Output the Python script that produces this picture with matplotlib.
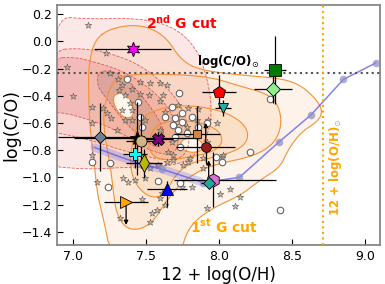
import numpy as np
import matplotlib
matplotlib.use('Agg')
import matplotlib.pyplot as plt

# ---- data ----
# background sample: stars and open circles
star_x = [7.106, 7.229, 6.962, 7.256, 7.003, 7.133, 7.133, 7.311, 7.338, 7.318, 7.359, 7.393,
          7.461, 7.53, 7.598, 7.407, 7.461, 7.523, 7.598, 7.619, 7.208, 7.236, 7.263, 7.338,
          7.407, 7.359, 7.407, 7.304, 7.496, 7.598, 7.701, 7.783, 7.714, 7.789, 7.858, 7.851,
          7.926, 7.988, 7.646, 7.721, 7.755, 7.632, 7.68, 7.653, 7.687, 7.919, 8.022, 7.892,
          7.133, 7.167, 7.345, 7.379, 7.427, 7.496, 7.53, 7.584, 7.646, 7.687, 7.475, 7.598,
          7.612, 7.578, 7.543, 7.53, 7.325, 7.632, 7.755, 7.789, 7.892, 7.817, 8.008, 8.077,
          8.145, 7.919, 8.111, 7.803, 8.029, 7.748]
star_y = [0.119, -0.087, -0.19, -0.234, -0.403, -0.484, -0.601, -0.278, -0.322, -0.359, -0.396, -0.454,
          -0.3, -0.307, -0.307, -0.351, -0.388, -0.396, -0.44, -0.396, -0.491, -0.528, -0.565, -0.506,
          -0.506, -0.579, -0.579, -0.653, -0.579, -0.653, -0.616, -0.631, -0.557, -0.491, -0.499, -0.579,
          -0.579, -0.601, -0.322, -0.469, -0.601, -0.521, -0.741, -0.815, -0.837, -0.741, -0.851, -0.859,
          -0.837, -1.035, -1.006, -1.035, -1.021, -1.006, -0.932, -0.91, -0.888, -0.874, -1.16, -1.153,
          -1.116, -1.241, -1.263, -1.329, -1.3, -1.204, -0.91, -0.888, -0.932, -1.072, -1.124, -1.087,
          -1.146, -1.226, -1.212, -0.859, -0.837, -1.072]

circ_x = [7.373, 7.448, 7.461, 7.475, 7.68, 7.701, 7.748, 7.728, 7.817, 7.748, 7.687, 7.721,
          7.858, 7.701, 7.783, 7.735, 7.632, 8.213, 8.35, 8.022, 7.981, 8.418, 7.919, 7.133,
          7.256, 7.243, 7.584, 7.735]
circ_y = [-0.278, -0.447, -0.557, -0.631, -0.484, -0.565, -0.528, -0.381, -0.557, -0.594, -0.616, -0.653,
          -0.631, -0.704, -0.675, -0.778, -0.557, -0.815, -0.425, -0.888, -0.851, -1.241, -0.601, -0.888,
          -0.896, -1.072, -1.028, -1.043]

# model track
track_x = [7.61, 7.89, 8.14, 8.41, 8.63, 8.85, 9.07]
track_y = [-0.94, -1.04, -1.0, -0.74, -0.54, -0.28, -0.16]
band_x = [7.15, 7.30, 7.46, 7.61, 7.74, 7.87]
band_y = [-0.78, -0.84, -0.90, -0.94, -0.985, -1.03]

solar_co = -0.235
solar_oh = 8.71

# highlighted objects
obj_x = [7.41, 8.38, 8.37, 8.00, 8.03, 7.85, 7.91, 7.96, 7.93, 7.648, 7.489, 7.366, 7.427, 7.586, 7.439, 7.468, 7.188]
obj_y = [-0.057, -0.212, -0.354, -0.37, -0.49, -0.685, -0.78, -1.016, -1.045, -1.085, -0.898, -1.18, -0.829, -0.72, -0.714, -0.734, -0.70]
obj_xlo = [0.26, 0.075, 0.13, 0.115, 0.055, 0.16, 0.2, 0.27, 0.05, 0.137, 0.125, 0.15, 0.085, 0.1, 0.43, 0.1, 0.29]
obj_xhi = [0.26, 0.075, 0.13, 0.115, 0.055, 0.16, 0.2, 0.43, 0.05, 0.137, 0.125, 0.15, 0.085, 0.1, 0.43, 0.1, 0.29]
obj_ylo = [0.05, 0.25, 0.1, 0.12, 0.06, 0.21, 0.12, 0.2, 0.0, 0.13, 0.107, 0.0, 0.1, 0.05, 0.27, 0.2, 0.25]
obj_yhi = [0.05, 0.25, 0.1, 0.12, 0.06, 0.21, 0.0, 0.2, 0.0, 0.06, 0.107, 0.0, 0.1, 0.05, 0.27, 0.2, 0.25]
obj_arrow = [0, 0, 0, 0, 0, 0, 0.18, 0, 0.17, 0, 0, -0.17, 0, 0, 0, 0, 0]
obj_marker = [(6, 1, 0), 's', 'D', 'p', 'v', 's', 'o', 'h', 'D', '^', 'd', '>', 'P', 'X', '*', 'o', 'D']
obj_color = ['magenta', '#007a00', '#90ee90', 'red', '#20b2aa', '#cd853f', '#a01818', 'orchid',
             '#1fa8a0', 'blue', '#b8b800', 'orange', 'cyan', 'purple', 'black', '#d2b48c', 'slategray']
obj_size = [10, 8, 7, 9, 7, 6, 7, 9.5, 6, 8, 9, 9, 9, 8, 10, 8, 6]

# density contours, outer to inner
red_c1 = [(6.85, 0.185), (7.12, 0.163), (7.39, 0.171), (7.60, 0.141), (7.75, 0.06), (7.86, -0.079),
          (7.92, -0.271), (7.95, -0.469), (7.94, -0.638), (7.87, -0.8), (7.77, -0.888), (7.63, -0.918),
          (7.39, -0.925), (7.15, -0.94), (6.98, -0.932), (6.85, -0.918)]
red_c2 = [(6.85, -0.065), (7.05, -0.05), (7.22, -0.079), (7.39, -0.138), (7.53, -0.226), (7.65, -0.344),
          (7.74, -0.469), (7.79, -0.616), (7.80, -0.763), (7.75, -0.859), (7.63, -0.874), (7.46, -0.837),
          (7.29, -0.785), (7.12, -0.726), (6.98, -0.69), (6.85, -0.668)]
red_c3 = [(6.85, -0.124), (7.02, -0.116), (7.15, -0.153), (7.29, -0.197), (7.43, -0.271), (7.56, -0.374),
          (7.67, -0.506), (7.72, -0.653), (7.72, -0.785), (7.67, -0.837), (7.56, -0.815), (7.46, -0.763),
          (7.36, -0.69), (7.22, -0.616), (7.08, -0.565), (6.95, -0.528), (6.85, -0.521)]
red_c4 = [(7.17, -0.226), (7.26, -0.212), (7.37, -0.271), (7.48, -0.41), (7.56, -0.521), (7.62, -0.638),
          (7.63, -0.741), (7.58, -0.785), (7.51, -0.741), (7.41, -0.653), (7.33, -0.557), (7.24, -0.432),
          (7.17, -0.337)]
org_c1 = [(7.15, 0.009), (7.26, 0.097), (7.46, 0.126), (7.63, 0.046), (7.74, -0.138), (7.87, -0.212),
          (8.15, -0.249), (8.42, -0.271), (8.56, -0.322), (8.67, -0.432), (8.71, -0.521), (8.67, -0.594),
          (8.56, -0.668), (8.47, -0.8), (8.42, -0.925), (8.28, -1.021), (8.15, -1.131), (7.97, -1.219),
          (7.84, -1.315), (7.77, -1.425), (7.74, -1.57), (7.26, -1.57), (7.22, -1.344), (7.17, -1.131),
          (7.15, -0.91), (7.12, -0.653), (7.11, -0.396), (7.11, -0.175)]
org_c2 = [(7.28, -0.271), (7.43, -0.241), (7.60, -0.241), (7.80, -0.249), (7.97, -0.271), (8.14, -0.329),
          (8.32, -0.381), (8.40, -0.454), (8.43, -0.587), (8.40, -0.712), (8.32, -0.8), (8.18, -0.859),
          (8.01, -0.896), (7.87, -0.947), (7.74, -1.043), (7.63, -1.189), (7.56, -1.315), (7.46, -1.388),
          (7.36, -1.373), (7.30, -1.263), (7.28, -1.116), (7.26, -0.925), (7.22, -0.704), (7.21, -0.484)]
org_c3 = [(7.46, -0.565), (7.60, -0.491), (7.77, -0.469), (7.94, -0.491), (8.09, -0.543), (8.19, -0.631),
          (8.20, -0.726), (8.13, -0.8), (7.97, -0.851), (7.80, -0.896), (7.70, -0.984), (7.63, -1.131),
          (7.53, -1.153), (7.43, -1.057), (7.39, -0.91), (7.41, -0.726)]
org_c4 = [(7.56, -0.616), (7.70, -0.579), (7.87, -0.594), (8.00, -0.653), (8.03, -0.741), (7.96, -0.815),
          (7.80, -0.851), (7.67, -0.874), (7.56, -0.859), (7.51, -0.763)]
hole_1 = [(7.28, -0.396), (7.34, -0.374), (7.39, -0.418), (7.42, -0.491), (7.41, -0.557), (7.36, -0.565),
          (7.31, -0.521), (7.28, -0.454)]
hole_2 = [(7.74, -0.726), (7.82, -0.704), (7.89, -0.741), (7.89, -0.8), (7.82, -0.822), (7.74, -0.793)]


def smooth(pts, n=4):
    p = np.array(pts, dtype=float)
    for _ in range(n):
        q = np.roll(p, -1, axis=0)
        new = np.empty((2 * len(p), 2))
        new[0::2] = 0.75 * p + 0.25 * q
        new[1::2] = 0.25 * p + 0.75 * q
        p = new
    return np.vstack([p, p[:1]])


fig = plt.figure(figsize=(3.85, 2.84), dpi=100)
ax = fig.add_axes([0.148, 0.137, 0.839, 0.845])

red_fill = ['#ec7a72', '#ec7a72', '#e06a70', '#a87a86']
red_alpha = [0.18, 0.18, 0.22, 0.35]
for c, col, a in zip([red_c1, red_c2, red_c3, red_c4], red_fill, red_alpha):
    s = smooth(c)
    ax.fill(s[:, 0], s[:, 1], color=col, alpha=a, lw=0, zorder=0)
for c in [org_c1, org_c2, org_c3, org_c4]:
    s = smooth(c)
    ax.fill(s[:, 0], s[:, 1], color='#f6a45a', alpha=0.12, lw=0, zorder=0.5)
for c in [hole_1, hole_2]:
    s = smooth(c)
    ax.fill(s[:, 0], s[:, 1], color='#fff6ee', lw=0, zorder=0.6)
    ax.plot(s[:, 0], s[:, 1], color='#f39035', lw=0.8, zorder=0.9)
for c in [red_c1, red_c2, red_c3, red_c4]:
    s = smooth(c)
    ax.plot(s[:, 0], s[:, 1], color='#e03c3c', lw=0.6, ls='--', alpha=0.8, zorder=0.8)
for c in [org_c1, org_c2, org_c3, org_c4]:
    s = smooth(c)
    ax.plot(s[:, 0], s[:, 1], color='#f39035', lw=0.8, zorder=0.9)

ax.scatter(star_x, star_y, marker='*', s=24, facecolor='#c4b59c', edgecolor='#4a4a4a',
           linewidth=0.5, alpha=0.75, zorder=2)
ax.scatter(circ_x, circ_y, marker='o', s=22, facecolor='white', edgecolor='#666666',
           linewidth=0.8, zorder=2)

ax.plot(band_x, band_y, color='#5a5af0', lw=6, alpha=0.25, solid_capstyle='round', zorder=2.5)
ax.plot(band_x + track_x[1:], band_y + track_y[1:], color='#5a5af0', lw=1.1, alpha=0.75, zorder=2.6)
ax.plot(track_x, track_y, 'o', ms=5.5, color='#8c8cc4', alpha=0.7, mec='none', zorder=2.7)

ax.axhline(solar_co, color='#555555', ls=':', lw=1.5, zorder=3)
ax.axvline(solar_oh, color='orange', ls=':', lw=1.5, zorder=3)

for i in range(len(obj_x)):
    ax.errorbar(obj_x[i], obj_y[i], xerr=[[obj_xlo[i]], [obj_xhi[i]]],
                yerr=[[obj_ylo[i]], [obj_yhi[i]]], fmt='none', ecolor='black',
                elinewidth=0.9, capsize=0, zorder=4)
    if obj_arrow[i] != 0:
        ax.annotate('', xy=(obj_x[i], obj_y[i] + obj_arrow[i]), xytext=(obj_x[i], obj_y[i]),
                    arrowprops=dict(arrowstyle='-|>', color='black', lw=0.9,
                                    mutation_scale=6, shrinkA=0, shrinkB=0), zorder=4)
    ax.plot(obj_x[i], obj_y[i], marker=obj_marker[i], ms=obj_size[i], color=obj_color[i],
            mec='black', mew=0.6, ls='none', zorder=5)

ax.text(7.50, 0.136, '2$^{\\mathbf{nd}}$ G cut', color='red', fontsize=10,
        fontweight='bold', va='center', ha='left')
ax.text(7.80, -1.364, '1$^{\\mathbf{st}}$ G cut', color='orange', fontsize=10,
        fontweight='bold', va='center', ha='left')
ax.text(7.85, -0.146, 'log(C/O)$_{\\odot}$', color='black', fontsize=8.5,
        fontweight='bold', va='center', ha='left')
ax.text(8.795, -0.925, '12 + log(O/H)$_{\\odot}$', color='orange', fontsize=8.5,
        fontweight='bold', va='center', ha='center', rotation=90)

ax.set_xlim(6.894, 9.10)
ax.set_ylim(-1.498, 0.266)
ax.set_xticks([7.0, 7.5, 8.0, 8.5, 9.0])
ax.set_yticks([0.2, 0.0, -0.2, -0.4, -0.6, -0.8, -1.0, -1.2, -1.4])
ax.tick_params(direction='in', labelsize=9, length=4)
ax.set_xlabel('12 + log(O/H)', fontsize=12, labelpad=2)
ax.set_ylabel('log(C/O)', fontsize=12.5, labelpad=1)
for sp in ax.spines.values():
    sp.set_color('#888888')
    sp.set_linewidth(1.3)

fig.savefig('out.png', dpi=100)
